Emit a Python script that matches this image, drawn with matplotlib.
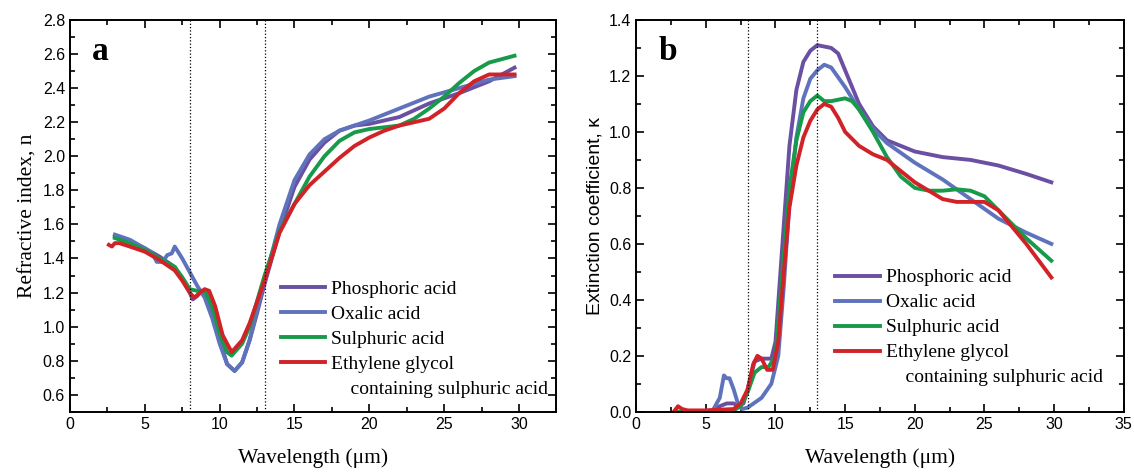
import matplotlib.pyplot as plt
from matplotlib.ticker import MultipleLocator

# colores de las series
c_fos = '#6a4fa3'
c_oxa = '#5f73bd'
c_sul = '#179a4a'
c_eti = '#d12228'

etiquetas = ['Phosphoric acid', 'Oxalic acid', 'Sulphuric acid', 'Ethylene glycol']
segunda_linea = '    containing sulphuric acid'

# --- panel a: indice de refraccion n ---
wl_n_fos = [3, 4, 5, 6, 7, 7.5, 8, 8.2, 8.5, 8.8, 9.1, 9.5, 10, 10.5, 11, 11.5, 12, 12.5, 13,
            14, 15, 16, 17, 18, 19, 20, 22, 24, 26, 28, 29.7]
n_fos = [1.53, 1.50, 1.46, 1.41, 1.35, 1.28, 1.2, 1.16, 1.18, 1.21, 1.2, 1.1, 0.92, 0.78, 0.74,
         0.79, 0.92, 1.08, 1.25, 1.56, 1.82, 1.98, 2.08, 2.15, 2.18, 2.19, 2.23, 2.31, 2.37,
         2.44, 2.52]

wl_n_oxa = [3, 4, 5, 5.5, 5.8, 6.2, 6.5, 6.8, 7, 7.5, 8, 8.5, 9, 9.5, 10, 10.5, 11, 11.5, 12,
            13, 14, 15, 16, 17, 18, 19, 20, 22, 24, 26, 28, 29.7]
n_oxa = [1.54, 1.51, 1.46, 1.43, 1.38, 1.38, 1.42, 1.43, 1.47, 1.40, 1.32, 1.24, 1.17, 1.05,
         0.9, 0.78, 0.74, 0.79, 0.92, 1.27, 1.6, 1.86, 2.01, 2.1, 2.15, 2.18, 2.21, 2.28, 2.35,
         2.40, 2.45, 2.47]

wl_n_sul = [3, 4, 5, 6, 7, 7.5, 8, 8.5, 9, 9.5, 10, 10.5, 10.8, 11.5, 12, 13, 14, 15, 16, 17,
            18, 19, 20, 21, 22, 23, 24, 25, 26, 27, 28, 29.7]
n_sul = [1.52, 1.49, 1.45, 1.40, 1.35, 1.29, 1.22, 1.21, 1.21, 1.12, 0.96, 0.85, 0.83, 0.9,
         1.0, 1.3, 1.56, 1.72, 1.88, 2.0, 2.09, 2.14, 2.16, 2.17, 2.18, 2.22, 2.28, 2.35, 2.43,
         2.5, 2.55, 2.59]

wl_n_eti = [2.6, 2.8, 3, 3.3, 4, 5, 6, 7, 7.5, 8, 8.3, 8.7, 9, 9.3, 9.7, 10.2, 10.8, 11.5, 12,
            13, 14, 15, 16, 17, 18, 19, 20, 21, 22, 23, 24, 25, 26, 27, 28, 29.7]
n_eti = [1.48, 1.47, 1.49, 1.49, 1.47, 1.44, 1.39, 1.33, 1.27, 1.2, 1.17, 1.2, 1.22, 1.21,
         1.12, 0.95, 0.85, 0.92, 1.02, 1.27, 1.55, 1.72, 1.83, 1.91, 1.99, 2.06, 2.11, 2.15,
         2.18, 2.2, 2.22, 2.28, 2.37, 2.44, 2.48, 2.48]

# --- panel b: coeficiente de extincion k ---
wl_k_fos = [2.8, 4, 5.5, 6, 6.5, 7, 7.3, 7.7, 8, 8.5, 9, 9.7, 10, 10.5, 11, 11.5, 12, 12.5, 13,
            14, 14.5, 15, 16, 17, 18, 20, 22, 24, 26, 28, 29.8]
k_fos = [0.0, 0.0, 0.005, 0.02, 0.03, 0.03, 0.02, 0.03, 0.08, 0.18, 0.19, 0.19, 0.25, 0.6, 0.95,
         1.15, 1.25, 1.29, 1.31, 1.30, 1.28, 1.22, 1.1, 1.02, 0.97, 0.93, 0.91, 0.9, 0.88, 0.85,
         0.82]

wl_k_oxa = [2.8, 4, 5.5, 6, 6.3, 6.5, 6.7, 7, 7.3, 7.6, 8, 9, 9.7, 10.2, 10.6, 11, 11.5, 12, 12.5,
            13, 13.5, 14, 15, 16, 17, 18, 20, 22, 24, 26, 28, 29.8]
k_oxa = [0.0, 0.0, 0.005, 0.05, 0.13, 0.12, 0.12, 0.08, 0.03, 0.01, 0.015, 0.05, 0.1, 0.2, 0.45,
         0.75, 0.98, 1.12, 1.19, 1.22, 1.24, 1.23, 1.16, 1.08, 1.01, 0.96, 0.89, 0.83, 0.76,
         0.69, 0.64, 0.60]

wl_k_sul = [2.8, 4, 6, 7, 7.5, 8, 8.5, 9, 9.5, 10, 10.5, 11, 11.5, 12, 12.5, 13, 13.5, 14, 15,
            15.5, 16, 17, 18, 19, 20, 21, 22, 23, 24, 25, 26, 27, 28, 29.8]
k_sul = [0.0, 0.0, 0.0, 0.005, 0.02, 0.07, 0.14, 0.16, 0.16, 0.2, 0.5, 0.8, 0.97, 1.07, 1.11,
         1.13, 1.11, 1.11, 1.12, 1.11, 1.08, 1.0, 0.91, 0.84, 0.8, 0.79, 0.79, 0.795, 0.79,
         0.77, 0.72, 0.67, 0.62, 0.54]

wl_k_eti = [2.7, 3, 3.3, 3.7, 5, 7, 7.5, 8, 8.4, 8.7, 9, 9.4, 9.8, 10.2, 10.6, 11, 11.5, 12,
            12.5, 13, 13.5, 14, 14.5, 15, 16, 17, 18, 19, 20, 21, 22, 23, 24, 25, 26, 27, 28,
            29.8]
k_eti = [0.0, 0.02, 0.01, 0.005, 0.005, 0.01, 0.03, 0.08, 0.17, 0.2, 0.19, 0.15, 0.15, 0.25,
         0.5, 0.73, 0.88, 0.98, 1.04, 1.08, 1.1, 1.09, 1.05, 1.0, 0.95, 0.92, 0.9, 0.86, 0.82,
         0.79, 0.76, 0.75, 0.75, 0.75, 0.72, 0.66, 0.6, 0.48]

serif = 'Liberation Serif'
sans = 'Liberation Sans'

fig = plt.figure(figsize=(11.34, 4.75), dpi=100)
ax1 = fig.add_axes([0.0617, 0.133, 0.429, 0.825])
ax2 = fig.add_axes([0.561, 0.133, 0.430, 0.825])


def estilo(ax):
    ax.tick_params(which='both', direction='in', top=True, right=True, width=1.2)
    ax.tick_params(which='major', length=6, labelsize=11.5)
    ax.tick_params(which='minor', length=3.5)
    for lab in ax.get_xticklabels() + ax.get_yticklabels():
        lab.set_fontfamily(sans)
    for s in ax.spines.values():
        s.set_linewidth(1.4)
    ax.axvline(8, color='k', ls=':', lw=0.9)
    ax.axvline(13, color='k', ls=':', lw=0.9)


def leyenda(ax, x0, y0):
    # entrada vacia para la segunda linea de la ultima etiqueta
    ax.plot([], [], color='none', label=segunda_linea)
    ax.legend(loc='lower left', bbox_to_anchor=(x0, y0), frameon=False,
              prop={'family': serif, 'size': 14}, handlelength=2.3, handletextpad=0.3,
              labelspacing=0.38, borderpad=0.2)


lw = 2.8
ax1.plot(wl_n_fos, n_fos, color=c_fos, lw=lw, label=etiquetas[0])
ax1.plot(wl_n_oxa, n_oxa, color=c_oxa, lw=lw, label=etiquetas[1])
ax1.plot(wl_n_sul, n_sul, color=c_sul, lw=lw, label=etiquetas[2])
ax1.plot(wl_n_eti, n_eti, color=c_eti, lw=lw, label=etiquetas[3])
ax1.set_xlim(0, 32.5)
ax1.set_ylim(0.5, 2.8)
ax1.xaxis.set_major_locator(MultipleLocator(5))
ax1.xaxis.set_minor_locator(MultipleLocator(2.5))
ax1.yaxis.set_minor_locator(MultipleLocator(0.1))
ax1.set_yticks([0.6, 0.8, 1.0, 1.2, 1.4, 1.6, 1.8, 2.0, 2.2, 2.4, 2.6, 2.8])
ax1.set_xlabel('Wavelength (μm)', fontfamily=serif, fontsize=15.5, labelpad=12)
ax1.set_ylabel('Refractive index, n', fontfamily=serif, fontsize=15.5, labelpad=4)
ax1.text(0.045, 0.92, 'a', transform=ax1.transAxes, fontfamily=serif, fontsize=24,
         fontweight='bold', va='center')
estilo(ax1)
leyenda(ax1, 0.405, 0.0)

ax2.plot(wl_k_fos, k_fos, color=c_fos, lw=lw, label=etiquetas[0])
ax2.plot(wl_k_oxa, k_oxa, color=c_oxa, lw=lw, label=etiquetas[1])
ax2.plot(wl_k_sul, k_sul, color=c_sul, lw=lw, label=etiquetas[2])
ax2.plot(wl_k_eti, k_eti, color=c_eti, lw=lw, label=etiquetas[3])
ax2.set_xlim(0, 35)
ax2.set_ylim(0, 1.4)
ax2.xaxis.set_major_locator(MultipleLocator(5))
ax2.xaxis.set_minor_locator(MultipleLocator(2.5))
ax2.yaxis.set_major_locator(MultipleLocator(0.2))
ax2.yaxis.set_minor_locator(MultipleLocator(0.1))
ax2.yaxis.set_major_formatter(plt.FuncFormatter(lambda v, p: f'{v:.1f}'))
ax2.set_xlabel('Wavelength (μm)', fontfamily=serif, fontsize=15.5, labelpad=12)
ax2.set_ylabel('Extinction coefficient, κ', fontfamily=sans, fontsize=14, labelpad=4)
ax2.text(0.045, 0.92, 'b', transform=ax2.transAxes, fontfamily=serif, fontsize=24,
         fontweight='bold', va='center')
estilo(ax2)
leyenda(ax2, 0.38, 0.03)

fig.savefig('out.png', dpi=100)
